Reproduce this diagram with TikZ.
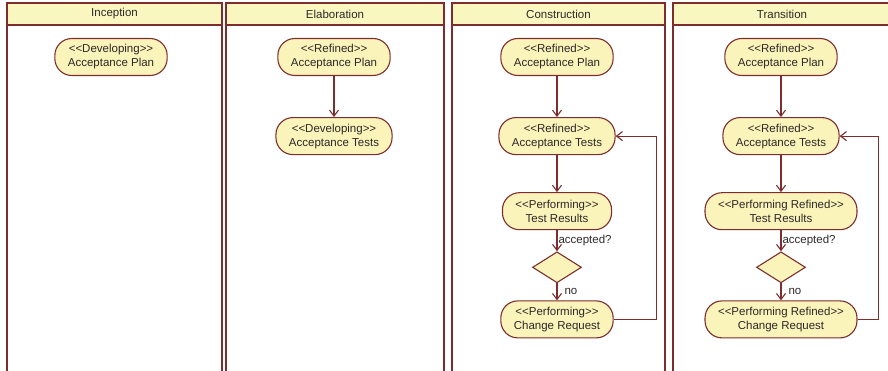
\documentclass[tikz,border=0pt]{standalone}
\usepackage{fontspec}
\setmainfont{Liberation Sans}
\usetikzlibrary{arrows.meta,positioning,shapes.geometric}

\definecolor{laneline}{RGB}{125,45,45}
\definecolor{headfill}{RGB}{250,246,192}
\definecolor{actfill}{RGB}{250,243,186}
\definecolor{textcol}{RGB}{45,40,40}

% stereotype brackets without the guillemet ligature
\newcommand{\stereo}[1]{<{}<#1>{}>}

\begin{document}
\begin{tikzpicture}[
  x=1pt, y=-1pt,
  node distance=41pt,
  font=\fontsize{11.5}{14}\selectfont, text=textcol,
  lane/.style={draw=laneline, line width=2.6pt},
  lanehead/.style={draw=laneline, line width=2.6pt, fill=headfill, minimum height=22pt, inner sep=0pt},
  act/.style={draw=laneline, line width=1.1pt, fill=actfill, rounded corners=17pt, align=center,
    minimum height=37pt, inner xsep=13pt, inner ysep=2pt},
  decision/.style={draw=laneline, line width=1.1pt, fill=actfill, diamond, aspect=1.6, inner sep=0pt,
    minimum width=49pt, minimum height=31pt},
  arr/.style={-{Straight Barb[length=6pt,width=9pt]}, draw=laneline, line width=1.1pt}
]
\useasboundingbox (0,0) rectangle (888,371);
\clip (0,0) rectangle (888,371);

% swimlanes
\draw[lane] (7,14) -- (7,380) (222,14) -- (222,380);
\draw[lane] (226,14) -- (226,380) (444,14) -- (444,380);
\draw[lane] (452,14) -- (452,380) (665,14) -- (665,380);
\draw[lane] (673,14) -- (673,380);
\node[lanehead, minimum width=215pt] (inc) at (114.5,14) {Inception};
\node[lanehead, minimum width=218pt] (ela) at (335,14) {Elaboration};
\node[lanehead, minimum width=213pt] (con) at (558.5,14) {Construction};
\node[lanehead, minimum width=218pt] (tra) at (782,14) {Transition};

% inception
\node[act] (incplan) at (111,57) {\stereo{Developing}\\Acceptance Plan};

% elaboration
\node[act] (elaplan) at (334,57) {\stereo{Refined}\\Acceptance Plan};
\node[act, below=of elaplan] (elatests) {\stereo{Developing}\\Acceptance Tests};

% construction
\node[act] (conplan) at (557,57) {\stereo{Refined}\\Acceptance Plan};
\node[act, below=of conplan] (contests) {\stereo{Refined}\\Acceptance Tests};
\node[act, below=37pt of contests] (conres) {\stereo{Performing}\\Test Results};
\node[decision, below=21pt of conres] (condec) {};
\node[act, below=17pt of condec] (concr) {\stereo{Performing}\\Change Request};

% transition
\node[act] (traplan) at (781,57) {\stereo{Refined}\\Acceptance Plan};
\node[act, below=of traplan] (tratests) {\stereo{Refined}\\Acceptance Tests};
\node[act, below=37pt of tratests] (trares) {\stereo{Performing Refined}\\Test Results};
\node[decision, below=21pt of trares] (tradec) {};
\node[act, below=17pt of tradec] (tracr) {\stereo{Performing Refined}\\Change Request};

\draw[arr] (elaplan) -- (elatests);

\draw[arr] (conplan) -- (contests);
\draw[arr] (contests) -- (conres);
\draw[arr] (conres) -- node[right, inner sep=1pt] {accepted?} (condec);
\draw[arr] (condec) -- node[right=6pt, inner sep=1pt] {no} (concr);
\draw[arr] (concr.east) -- ++(43,0) |- (contests.east);

\draw[arr] (traplan) -- (tratests);
\draw[arr] (tratests) -- (trares);
\draw[arr] (trares) -- node[right, inner sep=1pt] {accepted?} (tradec);
\draw[arr] (tradec) -- node[right=6pt, inner sep=1pt] {no} (tracr);
\draw[arr] (tracr.east) -- ++(21,0) |- (tratests.east);
\end{tikzpicture}
\end{document}
